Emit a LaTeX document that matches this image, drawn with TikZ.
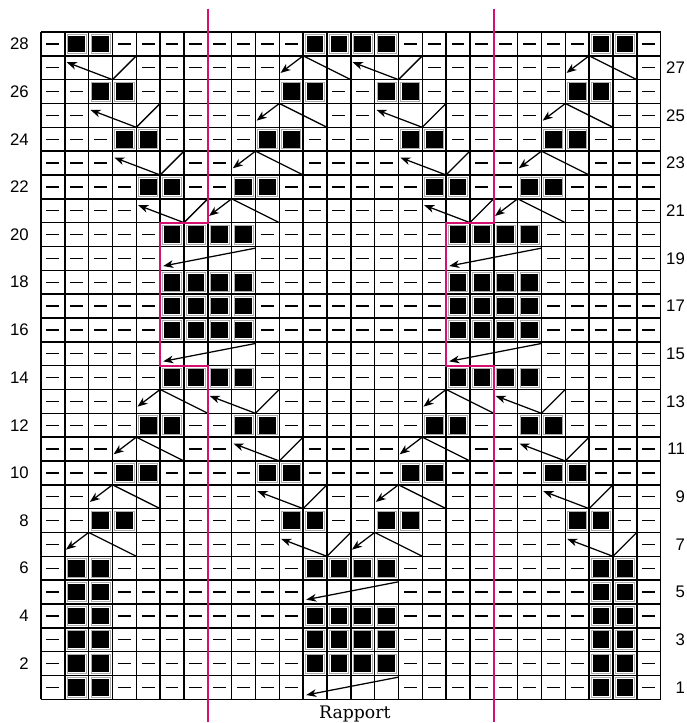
\documentclass[tikz,border=0pt]{standalone}
\usepackage{fontspec}
\newfontfamily\lblfont{Liberation Sans}
\newfontfamily\rapfont{DejaVu Serif}
\usetikzlibrary{arrows.meta}
\definecolor{rapportpink}{RGB}{214,16,112}
\tikzset{
  gridline/.style={line width=0.85pt, black},
  dashmark/.style={line width=0.8pt, black},
  knitframe/.style={line width=0.5pt, gray!65},
  cableline/.style={line width=0.75pt, black},
  cablearrow/.style={line width=0.75pt, black, -{Stealth[length=6pt,width=4.6pt,inset=1.8pt]}},
  pinkline/.style={line width=1.3pt, rapportpink},
  rowlabel/.style={font=\lblfont\fontsize{10}{12}\selectfont, inner sep=0pt, anchor=east},
}
\def\symD{D}\def\symK{K}
\def\RowP{D,K,K,D,D,D,D,D,D,D,D,K,K,K,K,D,D,D,D,D,D,D,D,K,K,D}
\def\RowQ{D,B,B,B,D,D,D,D,D,D,B,B,B,B,B,B,D,D,D,D,D,D,B,B,B,D}
\def\RowR{D,D,K,K,D,D,D,D,D,D,K,K,D,D,K,K,D,D,D,D,D,D,K,K,D,D}
\def\RowS{D,D,B,B,B,D,D,D,D,B,B,B,D,D,B,B,B,D,D,D,D,B,B,B,D,D}
\def\RowT{D,D,D,K,K,D,D,D,D,K,K,D,D,D,D,K,K,D,D,D,D,K,K,D,D,D}
\def\RowU{D,D,D,B,B,B,D,D,B,B,B,D,D,D,D,B,B,B,D,D,B,B,B,D,D,D}
\def\RowV{D,D,D,D,K,K,D,D,K,K,D,D,D,D,D,D,K,K,D,D,K,K,D,D,D,D}
\def\RowW{D,D,D,D,B,B,B,B,B,B,D,D,D,D,D,D,B,B,B,B,B,B,D,D,D,D}
\def\RowX{D,D,D,D,D,K,K,K,K,D,D,D,D,D,D,D,D,K,K,K,K,D,D,D,D,D}
\def\RowY{D,D,D,D,D,B,B,B,B,D,D,D,D,D,D,D,D,B,B,B,B,D,D,D,D,D}
\def\RowZ{D,K,K,D,D,D,D,D,D,D,D,B,B,B,B,D,D,D,D,D,D,D,D,K,K,D}
\newcommand\chartrow[2]{%
  \foreach \s [count=\c] in #2 {%
    \edef\cellsym{\s}%
    \ifx\cellsym\symD \draw[dashmark] (\c-0.77,#1-0.5) -- (\c-0.23,#1-0.5);\fi
    \ifx\cellsym\symK
      \draw[knitframe] (\c-0.9,#1-0.9) rectangle (\c-0.1,#1-0.1);
      \fill[black] (\c-0.85,#1-0.85) rectangle (\c-0.15,#1-0.15);
    \fi
  }}
\begin{document}
\begin{tikzpicture}[x=0.5cm,y=0.5cm]
\useasboundingbox (-1.719,-0.994) rectangle (27.09,29.342);
% cells
\chartrow{28}{\RowP}
\chartrow{27}{\RowQ}
\chartrow{26}{\RowR}
\chartrow{25}{\RowS}
\chartrow{24}{\RowT}
\chartrow{23}{\RowU}
\chartrow{22}{\RowV}
\chartrow{21}{\RowW}
\chartrow{20}{\RowX}
\chartrow{19}{\RowY}
\chartrow{18}{\RowX}
\chartrow{17}{\RowX}
\chartrow{16}{\RowX}
\chartrow{15}{\RowY}
\chartrow{14}{\RowX}
\chartrow{13}{\RowW}
\chartrow{12}{\RowV}
\chartrow{11}{\RowU}
\chartrow{10}{\RowT}
\chartrow{9}{\RowS}
\chartrow{8}{\RowR}
\chartrow{7}{\RowQ}
\chartrow{6}{\RowP}
\chartrow{5}{\RowZ}
\chartrow{4}{\RowP}
\chartrow{3}{\RowP}
\chartrow{2}{\RowP}
\chartrow{1}{\RowZ}
% grid
\draw[gridline, xstep=0.5cm, ystep=0.5cm] (0,0) grid (26,28);
% cables: arrow down-left, line down-right
\foreach \sx/\r in {11/27,23/27,10/25,22/25,9/23,21/23,8/21,20/21,5/13,17/13,4/11,16/11,3/9,15/9,2/7,14/7} {
  \coordinate (as\sx-\r) at (\sx,\r);
  \coordinate (ae\sx-\r) at (\sx+2,\r-1);
  \coordinate (at\sx-\r) at (\sx-0.95,\r-0.72);
  \draw[cableline] (as\sx-\r) -- (ae\sx-\r);
  \draw[cablearrow] (as\sx-\r) -- (at\sx-\r);
}
% cables: arrow up-left, line up-right
\foreach \bx/\r in {3/27,15/27,4/25,16/25,5/23,17/23,6/21,18/21,9/13,21/13,10/11,22/11,11/9,23/9,12/7,24/7} {
  \coordinate (bs\bx-\r) at (\bx,\r-1);
  \coordinate (be\bx-\r) at (\bx+1,\r);
  \coordinate (bt\bx-\r) at (\bx-1.92,\r-0.27);
  \draw[cableline] (bs\bx-\r) -- (be\bx-\r);
  \draw[cablearrow] (bs\bx-\r) -- (bt\bx-\r);
}
% long arrows
\foreach \lx/\r in {9/19,21/19,9/15,21/15,15/5,15/1} {
  \coordinate (ls\lx-\r) at (\lx,\r-0.07);
  \coordinate (lt\lx-\r) at (\lx-3.87,\r-0.82);
  \draw[cablearrow] (ls\lx-\r) -- (lt\lx-\r);
}
% row labels
\foreach \r in {2,4,...,28} \node[rowlabel] (lab\r) at (-0.5,\r-0.5) {\r};
\foreach \r in {1,3,...,27} \node[rowlabel] (lab\r) at (27.03,\r-0.5) {\r};
% rapport lines
\draw[pinkline] (7,28.98) -- (7,20) -- (5,20) -- (5,14) -- (7,14) -- (7,-0.97);
\draw[pinkline] (19,28.98) -- (19,20) -- (17,20) -- (17,14) -- (19,14) -- (19,-0.97);
\node[font=\rapfont\fontsize{10.3}{12}\selectfont, inner sep=0pt, anchor=base] (rapport) at (13.17,-0.8) {Rapport};
\end{tikzpicture}
\end{document}
